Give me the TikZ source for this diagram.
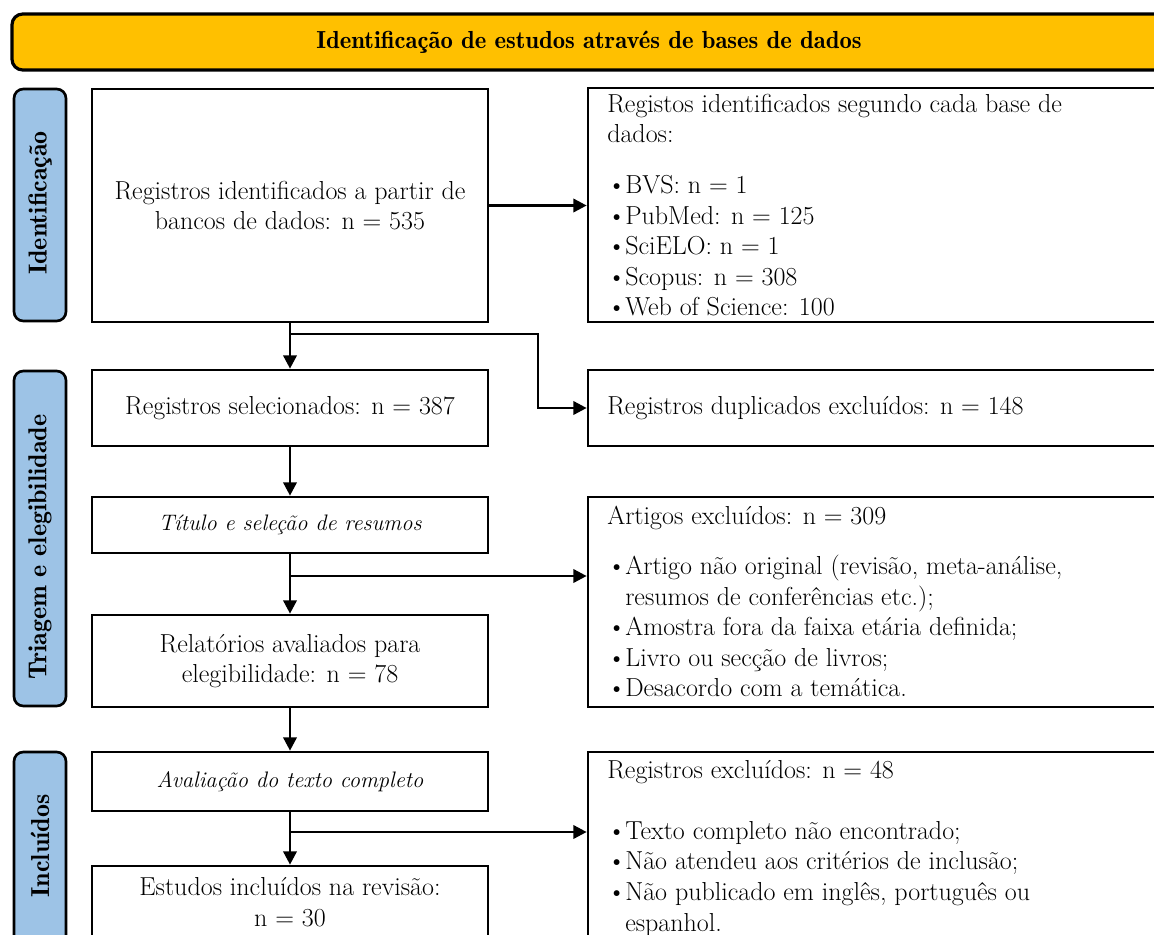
\documentclass[tikz,border=0pt]{standalone}
\usetikzlibrary{arrows.meta}
\definecolor{hdrcol}{RGB}{255,192,0}
\definecolor{sideblue}{RGB}{157,195,230}
\newcommand\bodyf{\fontsize{19.5}{22.9}\selectfont}
\newcommand\itf{\fontsize{16.8}{22.9}\selectfont\itshape}
\newcommand\hdrf{\fontsize{18.5}{21}\fontseries{b}\selectfont}
\newcommand\sidef{\fontsize{19.5}{21}\fontseries{b}\selectfont}
\newcommand\bul{\makebox[13.5pt][l]{\textbullet}}
\newcommand\bulind{\hspace*{13.5pt}}
\begin{document}
\begin{tikzpicture}[x=0.75pt,y=-0.75pt,
  box/.style={draw,line width=2pt,inner sep=0pt,minimum width=297pt},
  rbox/.style={draw,line width=2pt,inner sep=0pt,minimum width=440.25pt},
  side/.style={draw,line width=2pt,rounded corners=7pt,fill=sideblue,inner sep=0pt,minimum width=39pt},
  txt/.style={inner sep=0pt,font=\bodyf,align=center},
  ltxt/.style={inner sep=0pt,font=\bodyf,align=left,anchor=north west},
  vlab/.style={rotate=90,font=\sidef,inner sep=0pt},
  arr/.style={line width=2pt,-{Triangle[length=10pt,width=10pt]}},
  ln/.style={line width=2pt}]
\useasboundingbox (0,0) rectangle (1154,935);
\clip (0,0) rectangle (1154,935);

% header
\node[draw,line width=2.4pt,rounded corners=8pt,fill=hdrcol,minimum width=868.5pt,minimum height=42pt,inner sep=0pt] (hdr) at (591,42) {};
\node[font=\hdrf,inner sep=0pt] (hdrt) at (589,42) {Identificação de estudos através de bases de dados};

% side bars
\node[side,minimum height=174pt] (s1) at (40,205) {};
\node[vlab] (s1t) at (40,203) {Identificação};
\node[side,minimum height=251.25pt] (s2) at (40,538.5) {};
\node[vlab] (s2t) at (40,547) {Triagem e elegibilidade};
\node[side,minimum height=156pt] (s3) at (40,856) {};
\node[vlab] (s3t) at (40,846) {Incluídos};

% left boxes
\node[box,minimum height=174.75pt,txt] (A) at (290,205.5) {Registros identificados a partir de\\bancos de dados: n = 535};
\node[box,minimum height=57pt,txt] (B) at (290,408) {Registros selecionados: n = 387};
\node[box,minimum height=42pt,txt,font=\itf] (C) at (290,525) {Título e seleção de resumos};
\node[box,minimum height=69pt,txt] (D) at (290,661) {Relatórios avaliados para\\elegibilidade: n = 78};
\node[box,minimum height=44.25pt,txt,font=\itf] (E) at (290,781.5) {Avaliação do texto completo};
\node[box,minimum height=70.5pt] (F) at (290,913) {};
\node[txt] (Ft) at (290,902) {Estudos incluídos na revisão:\\n = 30};

% right boxes
\node[rbox,minimum height=175.5pt] (R1) at (881.5,205) {};
\node[ltxt] (R1t) at (607,93.5) {Registos identificados segundo cada base de\\dados:\\[15.5pt]
\bul BVS: n = 1\\\bul PubMed: n = 125\\\bul SciELO: n = 1\\\bul Scopus: n = 308\\\bul Web of Science: 100};
\node[rbox,minimum height=57pt] (R2) at (881.5,408) {};
\node[txt,anchor=west] (R2t) at (607,408) {Registros duplicados excluídos: n = 148};
\node[rbox,minimum height=157.5pt] (R3) at (881.5,602) {};
\node[ltxt] (R3t) at (607,506) {Artigos excluídos: n = 309\\[14.6pt]
\bul Artigo não original (revisão, meta-análise,\\\bulind resumos de conferências etc.);\\
\bul Amostra fora da faixa etária definida;\\\bul Livro ou secção de livros;\\\bul Desacordo com a temática.};
\node[rbox,minimum height=156pt] (R4) at (881.5,856) {};
\node[ltxt] (R4t) at (607,760) {Registros excluídos: n = 48\\[22.9pt]
\bul Texto completo não encontrado;\\\bul Não atendeu aos critérios de inclusão;\\
\bul Não publicado em inglês, português ou\\\bulind espanhol.};

% connectors
\coordinate (b1) at (290,334);
\coordinate (k1) at (538,370);
\coordinate (b2) at (290,576);
\coordinate (b3) at (290,832);
\draw[arr] (A.east) -- (A.east -| R1.west);
\draw[arr] (A.south) -- (B.north);
\draw[ln] (b1) -| (k1);
\draw[arr] (k1) |- (R2.west);
\draw[arr] (B.south) -- (C.north);
\draw[arr] (C.south) -- (D.north);
\draw[arr] (b2) -- (b2 -| R3.west);
\draw[arr] (D.south) -- (E.north);
\draw[arr] (E.south) -- (F.north);
\draw[arr] (b3) -- (b3 -| R4.west);
\end{tikzpicture}
\end{document}
